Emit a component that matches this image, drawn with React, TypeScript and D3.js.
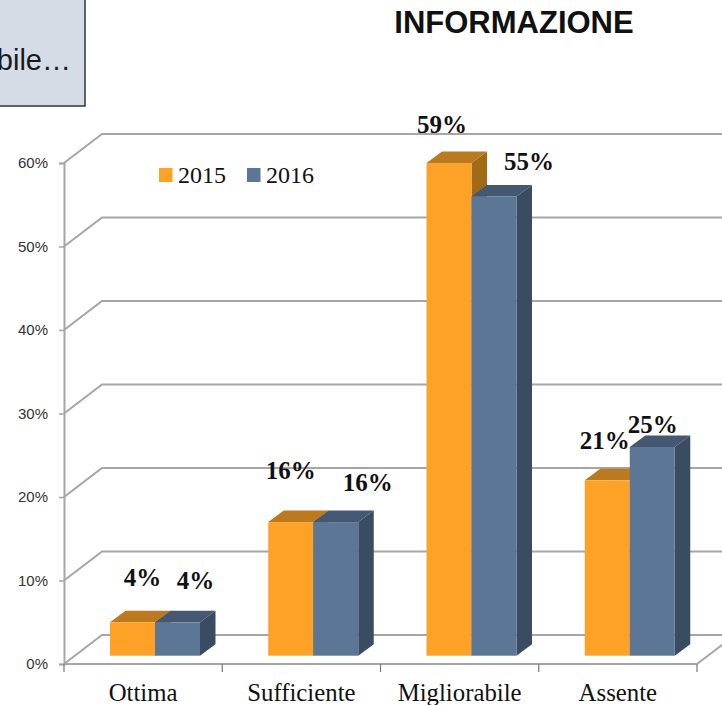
import * as d3 from "d3";
import { useEffect, useRef } from "react";

const categories = ["Ottima", "Sufficiente", "Migliorabile", "Assente"];
const years = ["2015", "2016"];
const values2015 = [4, 16, 59, 21];
const values2016 = [4, 16, 55, 25];
const yTicks = [0, 10, 20, 30, 40, 50, 60];

// label nudges from the centre of each bar's top edge (hand placed in the original)
const labelNudge2015 = [[10, -36], [0, -43], [-7, -30], [-2.5, -31]];
const labelNudge2016 = [[18, -33], [32, -31], [35, -26], [0.5, -14]];

const width = 722;
const height = 705;
const plotLeft = 64;
const plotRight = 697;
const depthX = 38;
const depthY = 29;
const barDepthX = 15.5;
const barDepthY = 11.5;
const gridColor = "#a6a6a6";

const palette = [
  { front: "#fda127", top: "#bc7a1e", side: "#a16a16" },
  { front: "#5b7795", top: "#445871", side: "#3a4c62" },
];

export default function App() {
  const svgRef = useRef<SVGSVGElement>(null);

  useEffect(() => {
    const svg = d3.select(svgRef.current);
    svg.selectAll("*").remove();

    const x = d3.scaleBand().domain(categories).range([plotLeft, plotRight]);
    const y = d3.scaleLinear().domain([0, 60]).range([664, 163]);
    const barX = d3.scaleBand().domain(years).range([46, 136]);
    const barBase = -8.3;

    // text box cut off by the page edge
    svg.append("rect")
      .attr("x", -10).attr("y", -10)
      .attr("width", 95).attr("height", 116)
      .attr("fill", "#d6dce6")
      .attr("stroke", "#333").attr("stroke-width", 1.5);
    svg.append("text")
      .attr("x", 71).attr("y", 70)
      .attr("text-anchor", "end")
      .attr("font-family", "Liberation Sans")
      .attr("font-size", 29)
      .attr("fill", "#1a1a1a")
      .text("bile…");

    svg.append("text")
      .attr("x", 514).attr("y", 33)
      .attr("text-anchor", "middle")
      .attr("font-family", "Liberation Sans")
      .attr("font-weight", "bold")
      .attr("font-size", 31)
      .attr("fill", "#111")
      .text("INFORMAZIONE");

    // 3D walls
    const grid = svg.append("g")
      .attr("fill", "none")
      .attr("stroke", gridColor)
      .attr("stroke-width", 2);
    yTicks.forEach((t) => {
      grid.append("path")
        .attr("d", `M${plotLeft},${y(t)}L${plotLeft + depthX},${y(t) - depthY}L${width + 5},${y(t) - depthY}`);
    });
    grid.append("path")
      .attr("d", `M${plotRight},${y(0)}L${plotRight + depthX},${y(0) - depthY}`);

    // axes
    const yAxis = d3.axisLeft(y)
      .tickValues(yTicks)
      .tickFormat((d) => `${d}%`)
      .tickSize(5)
      .tickPadding(11);
    const yG = svg.append("g")
      .attr("transform", `translate(${plotLeft},0)`)
      .call(yAxis);
    yG.select(".domain").attr("stroke", gridColor).attr("stroke-width", 2);
    yG.selectAll(".tick line").attr("stroke", gridColor).attr("stroke-width", 1.5);
    yG.selectAll("text")
      .attr("font-family", "Liberation Sans")
      .attr("font-size", 15)
      .attr("fill", "#333");

    const xG = svg.append("g")
      .attr("transform", `translate(0,${y(0)})`);
    xG.append("line")
      .attr("x1", plotLeft).attr("x2", plotRight)
      .attr("stroke", gridColor).attr("stroke-width", 2);
    [...categories.map((c) => x(c)!), plotRight].forEach((px) => {
      xG.append("line")
        .attr("x1", px).attr("x2", px)
        .attr("y1", 0).attr("y2", 8)
        .attr("stroke", "#777").attr("stroke-width", 1.2);
    });
    xG.selectAll("text.cat")
      .data(categories)
      .enter()
      .append("text")
      .attr("class", "cat")
      .attr("x", (d) => x(d)! + x.bandwidth() / 2)
      .attr("y", 37)
      .attr("text-anchor", "middle")
      .attr("font-family", "Liberation Serif")
      .attr("font-size", 24.8)
      .attr("fill", "#111")
      .text((d) => d);

    // bars, back to front so the 2016 block covers the 2015 side
    const series = [values2015, values2016];
    categories.forEach((c, ci) => {
      years.forEach((yr, si) => {
        const v = series[si][ci];
        const x0 = x(c)! + barX(yr)!;
        const x1 = x0 + barX.bandwidth();
        const top = y(v) + barBase;
        const bottom = y(0) + barBase;
        const col = palette[si];
        svg.append("path")
          .attr("d", `M${x1},${top}L${x1 + barDepthX},${top - barDepthY}L${x1 + barDepthX},${bottom - barDepthY}L${x1},${bottom}Z`)
          .attr("fill", col.side);
        svg.append("path")
          .attr("d", `M${x0},${top}L${x0 + barDepthX},${top - barDepthY}L${x1 + barDepthX},${top - barDepthY}L${x1},${top}Z`)
          .attr("fill", col.top);
        svg.append("rect")
          .attr("x", x0).attr("y", top)
          .attr("width", x1 - x0).attr("height", bottom - top)
          .attr("fill", col.front);
      });
    });

    // data labels go on top of everything
    [labelNudge2015, labelNudge2016].forEach((nudge, si) => {
      categories.forEach((c, ci) => {
        const v = series[si][ci];
        svg.append("text")
          .attr("x", x(c)! + barX(years[si])! + barX.bandwidth() / 2 + nudge[ci][0])
          .attr("y", y(v) + barBase + nudge[ci][1])
          .attr("text-anchor", "middle")
          .attr("font-family", "Liberation Serif")
          .attr("font-weight", "bold")
          .attr("font-size", 25)
          .attr("fill", "#111")
          .text(`${v}%`);
      });
    });

    // legend
    const legend = svg.append("g");
    const legendX = d3.scalePoint().domain(years).range([159, 247]);
    years.forEach((yr, si) => {
      legend.append("rect")
        .attr("x", legendX(yr)!).attr("y", 168)
        .attr("width", 13.5).attr("height", 14)
        .attr("fill", palette[si].front);
      legend.append("text")
        .attr("x", legendX(yr)! + 19).attr("y", 183)
        .attr("font-family", "Liberation Serif")
        .attr("font-size", 24)
        .attr("fill", "#111")
        .text(yr);
    });
  }, []);

  return (
    <svg
      ref={svgRef}
      width={width}
      height={height}
      style={{ position: "absolute", left: 0, top: 0, background: "#fff" }}
    />
  );
}
